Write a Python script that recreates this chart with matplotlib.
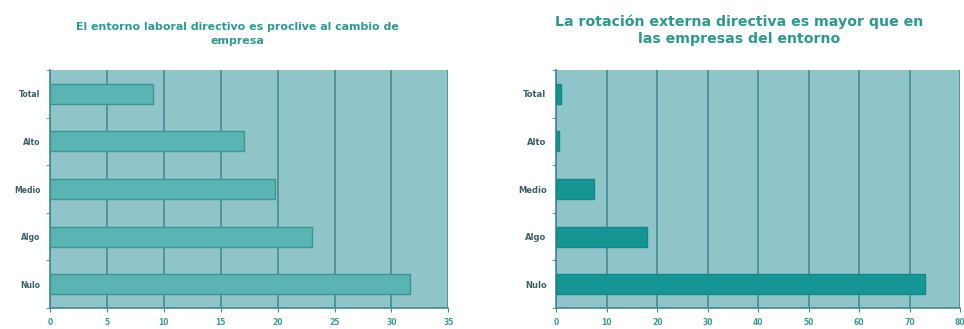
import matplotlib.pyplot as plt
import numpy as np

# categorías (de arriba abajo)
categorias = ['Total', 'Alto', 'Medio', 'Algo', 'Nulo']

# % entorno laboral proclive al cambio de empresa
entorno = [9, 17, 19.8, 23, 31.6]
# % rotación externa directiva mayor que en el entorno
rotacion = [1, 0.5, 7.5, 18, 73]

titulo_izq = 'El entorno laboral directivo es proclive al cambio de\nempresa'
titulo_der = 'La rotación externa directiva es mayor que en\nlas empresas del entorno'

fondo = '#8fc4c8'
rejilla = '#3d8a90'

fig = plt.figure(figsize=(9.64, 3.29), dpi=100)
fig.patch.set_facecolor('white')

ax1 = fig.add_axes([0.052, 0.064, 0.413, 0.723])
ax2 = fig.add_axes([0.577, 0.064, 0.419, 0.723])


def dibujar(ax, valores, xmax, paso, color_barra, color_borde, tam_cat):
    y = np.arange(len(categorias))
    ax.set_facecolor(fondo)
    ax.barh(y, valores, height=0.42, color=color_barra, edgecolor=color_borde,
            linewidth=1.0, zorder=3)
    ax.set_xlim(0, xmax)
    ax.set_ylim(len(categorias) - 0.5, -0.5)
    ax.set_xticks(np.arange(0, xmax + 1, paso))
    ax.set_yticks(y)
    ax.set_yticklabels(categorias)
    ax.set_yticks(np.arange(-0.5, len(categorias)), minor=True)
    ax.grid(axis='x', color=rejilla, linewidth=1.1, zorder=1)
    ax.tick_params(axis='y', which='major', length=0, pad=7, labelsize=tam_cat,
                   labelcolor='#3b5f62')
    ax.tick_params(axis='y', which='minor', length=3, color=rejilla)
    ax.tick_params(axis='x', length=3, color=rejilla, labelsize=5.5,
                   labelcolor='#3a9a90', pad=4)
    for lab in ax.get_xticklabels() + ax.get_yticklabels():
        lab.set_fontweight('bold')
    for lado in ['top', 'right']:
        ax.spines[lado].set_visible(False)
    ax.spines['left'].set_color(rejilla)
    ax.spines['bottom'].set_color(rejilla)
    ax.spines['left'].set_linewidth(1.2)
    ax.spines['bottom'].set_linewidth(1.2)


dibujar(ax1, entorno, 35, 5, '#5ab4b4', '#3a9595', 5.5)
dibujar(ax2, rotacion, 80, 10, '#169595', '#128888', 6)

# títulos de cada gráfico
fig.text(0.246, 1 - 34 / 329, titulo_izq, ha='center', va='center',
         color='#2a9a8f', fontsize=7.9, fontweight='bold', linespacing=1.45)
fig.text(0.767, 1 - 30 / 329, titulo_der, ha='center', va='center',
         color='#2a9a8f', fontsize=10.2, fontweight='bold', linespacing=1.25)

fig.savefig('out.png', dpi=100, facecolor='white')
